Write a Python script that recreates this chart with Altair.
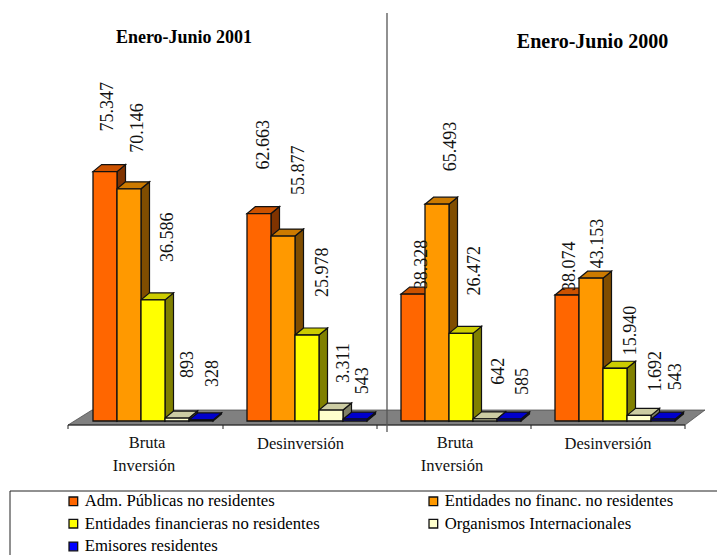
import altair as alt
import pandas as pd

# ---- values (thousands)
SERIES = ["Adm. Públicas no residentes", "Entidades no financ. no residentes",
          "Entidades financieras no residentes", "Organismos Internacionales",
          "Emisores residentes"]
BRUTA_2001 = [75.347, 70.146, 36.586, 0.893, 0.328]
DESINV_2001 = [62.663, 55.877, 25.978, 3.311, 0.543]
BRUTA_2000 = [38.328, 65.493, 26.472, 0.642, 0.585]
DESINV_2000 = [38.074, 43.153, 15.940, 1.692, 0.543]
LABELS_2001B = ["75.347", "70.146", "36.586", "893", "328"]
LABELS_2001D = ["62.663", "55.877", "25.978", "3.311", "543"]
LABELS_2000B = ["38.328", "65.493", "26.472", "642", "585"]
LABELS_2000D = ["38.074", "43.153", "15.940", "1.692", "543"]

# ---- styles
FRONT = ["#FF6600", "#FF9900", "#FFFF00", "#FFFFCC", "#0000FF"]
TOP = ["#CC5200", "#CC7A00", "#CCCC00", "#CCCCA3", "#0000CC"]
SIDE = ["#803300", "#804D00", "#808000", "#808066", "#000080"]
FONT = "Liberation Serif"

# ---- layout (page pixels)
W, H = 709, 547
PX_PER_UNIT = 3.31
BASE_PY = 421
BAR_W, DEPTH_X, DEPTH_Y = 24, 8.5, 7
GROUP_LEFT = [93, 247, 401, 555]
GAPS = [[40, 36, 38, 40, 33], [44, 41, 38, 27, 25], [5, 33, 38, 34, 24], [4, 10, 13, 24, 29]]
LABEL_X = [[108, 138, 168, 188, 213], [264, 299, 323, 343.5, 362.5],
           [422, 451, 475, 499, 522.5], [570, 598, 631, 656, 676]]


def px(x):
    return x - 8


def val(py):
    return (BASE_PY - py) / PX_PER_UNIT


UP = DEPTH_Y / PX_PER_UNIT
X = alt.X("x:Q", axis=None, scale=alt.Scale(domain=[0, W], range=[0, W], nice=False, zero=False))
Y = alt.Y("y:Q", axis=None, scale=alt.Scale(domain=[val(H + 8), val(8)], range=[H, 0], nice=False, zero=False))

front, tops, sides, labels = [], [], [], []
groups = [(BRUTA_2001, LABELS_2001B), (DESINV_2001, LABELS_2001D),
          (BRUTA_2000, LABELS_2000B), (DESINV_2000, LABELS_2000D)]
for g, (vals, txts) in enumerate(groups):
    for i, v in enumerate(vals):
        x0 = px(GROUP_LEFT[g] + BAR_W * i)
        x1 = x0 + BAR_W
        key = f"{g}-{i}"
        front.append(dict(x=x0, x2=x1, y=0, y2=v, s=SERIES[i]))
        tops.append(dict(x=x0, x2=x1, y=v, c=TOP[i], k=key))
        tops.append(dict(x=x0 + DEPTH_X, x2=x1 + DEPTH_X, y=v + UP, c=TOP[i], k=key))
        sides.append(dict(x=x1, y=0, y2=v, c=SIDE[i], k=key))
        sides.append(dict(x=x1 + DEPTH_X, y=UP, y2=v + UP, c=SIDE[i], k=key))
        labels.append(dict(x=px(LABEL_X[g][i]), y=v + GAPS[g][i] / PX_PER_UNIT, t=txts[i]))

floor = pd.DataFrame([dict(x=px(68), x2=px(685), y=val(425)), dict(x=px(92), x2=px(705), y=val(410))])
floor_layer = alt.Chart(floor).mark_area(orient="horizontal", color="#808080", stroke="#444444", strokeWidth=0.7).encode(
    x=X, x2="x2:Q", y=Y)

front_edge = alt.Chart(pd.DataFrame([dict(x=px(68), x2=px(685), y=val(425))])).mark_rule(
    color="#222222", strokeWidth=1.2).encode(x=X, x2="x2:Q", y=Y)
ticks = alt.Chart(pd.DataFrame([dict(x=px(t), y=val(425), y2=val(429)) for t in [68, 223, 377, 531, 685]])).mark_rule(
    color="#222222", strokeWidth=1).encode(x=X, y=Y, y2="y2:Q")
sep = alt.Chart(pd.DataFrame([dict(x=px(387), y=val(13), y2=val(432))])).mark_rule(
    color="#555555", strokeWidth=1.3).encode(x=X, y=Y, y2="y2:Q")

side_layer = alt.Chart(pd.DataFrame(sides)).mark_area(stroke="#111111", strokeWidth=1.2).encode(
    x=X, y=Y, y2="y2:Q", detail="k:N", fill=alt.Fill("c:N", scale=None))
top_layer = alt.Chart(pd.DataFrame(tops)).mark_area(orient="horizontal", stroke="#111111", strokeWidth=1.2).encode(
    x=X, x2="x2:Q", y=Y, detail="k:N", fill=alt.Fill("c:N", scale=None))
front_layer = alt.Chart(pd.DataFrame(front)).mark_rect(stroke="#111111", strokeWidth=1.3).encode(
    x=X, x2="x2:Q", y=Y, y2="y2:Q",
    fill=alt.Fill("s:N", sort=SERIES, scale=alt.Scale(domain=SERIES, range=FRONT),
                  legend=alt.Legend(title=None, orient="none", legendX=px(65), legendY=px(492.5), columns=2,
                                    direction="horizontal", symbolType="square", symbolSize=75,
                                    symbolStrokeColor="#333333", symbolStrokeWidth=1.3, labelFont=FONT,
                                    labelFontSize=16.7, labelColor="#000000", labelOffset=3, labelLimit=300,
                                    rowPadding=4.8, columnPadding=105, gridAlign="each")))

label_layer = alt.Chart(pd.DataFrame(labels)).mark_text(
    angle=270, align="left", baseline="middle", font=FONT, fontSize=18, color="#111111").encode(
    x=X, y=Y, text="t:N")

captions = pd.DataFrame([
    dict(x=px(147), y=val(443), t="Bruta"), dict(x=px(144), y=val(466), t="Inversión"),
    dict(x=px(300.5), y=val(444), t="Desinversión"), dict(x=px(455), y=val(443), t="Bruta"),
    dict(x=px(452), y=val(466), t="Inversión"), dict(x=px(608), y=val(444), t="Desinversión")])
caption_layer = alt.Chart(captions).mark_text(font=FONT, fontSize=16.5, color="#111111").encode(x=X, y=Y, text="t:N")

titles = pd.DataFrame([dict(x=px(184), y=val(37.5), t="Enero-Junio 2001", s=18),
                       dict(x=px(592.5), y=val(41.5), t="Enero-Junio 2000", s=20)])
title_layer = alt.Chart(titles).mark_text(font=FONT, fontWeight="bold", color="#000000").encode(
    x=X, y=Y, text="t:N", size=alt.Size("s:Q", scale=None, legend=None))

box_top = alt.Chart(pd.DataFrame([dict(x=px(10), x2=W, y=val(491))])).mark_rule(
    color="#222222", strokeWidth=1).encode(x=X, x2="x2:Q", y=Y)
box_left = alt.Chart(pd.DataFrame([dict(x=px(10), y=val(491), y2=val(8 + H))])).mark_rule(
    color="#222222", strokeWidth=1).encode(x=X, y=Y, y2="y2:Q")

chart = alt.layer(
    floor_layer, front_edge, ticks, sep, side_layer, top_layer, front_layer, label_layer,
    caption_layer, title_layer, box_top, box_left).properties(
    width=W, height=H, padding=0, autosize=alt.AutoSizeParams(type="none")).configure_view(stroke=None)

chart.save("out.html", embed_options={"renderer": "svg", "actions": False})
